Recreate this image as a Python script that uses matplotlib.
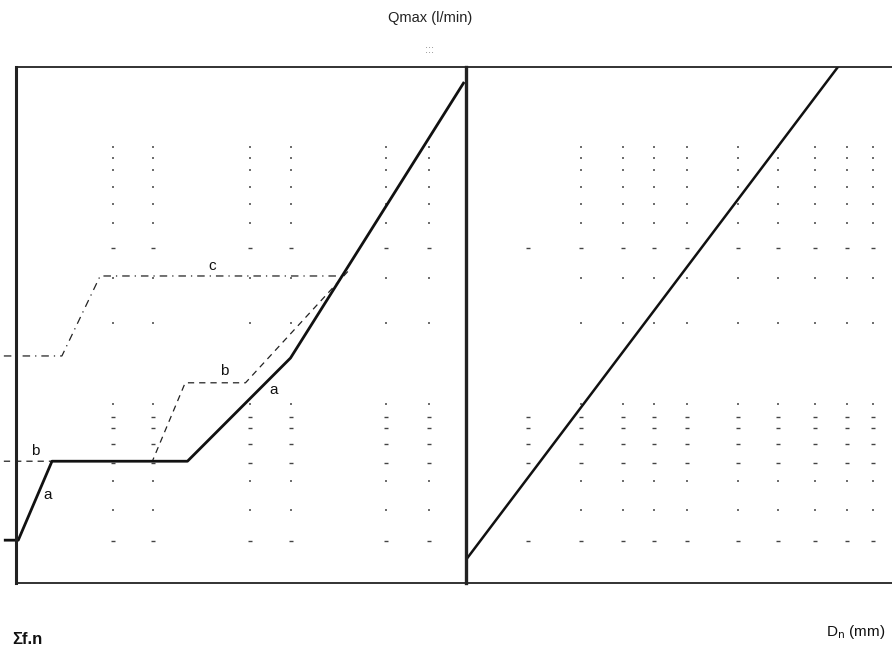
import matplotlib
matplotlib.use("Agg")
import matplotlib.pyplot as plt
import numpy as np

plt.rcParams["font.family"] = ["Liberation Sans", "DejaVu Sans"]

# curves (arbitrary chart units, y shared: Qmax)
a_x = [-2.7, 0.5, 8.0, 38.1, 61.0, 99.6]
a_y = [8.3, 8.3, 23.6, 23.6, 43.6, 97.1]
b_x = [-2.7, 30.3, 37.6, 51.0, 74.4]
b_y = [23.6, 23.6, 38.8, 38.8, 61.0]
c_x = [-2.7, 10.2, 18.7, 73.0]
c_y = [44.0, 44.0, 59.5, 59.5]

# right panel: Qmax vs D
d_x = [0.0, 87.3]
d_y = [4.5, 100.0]

# curve labels
labels = [("c", 43.6, 61.5), ("b", 46.3, 41.0), ("a", 57.3, 37.5),
          ("b", 4.2, 25.5), ("a", 7.1, 17.0)]

# sparse grid seen in the scan
dot_rows = [84.5, 82.4, 80.0, 76.7, 73.4, 69.8, 59.1, 50.4, 34.7, 19.8, 14.1]
dash_rows = [64.9, 32.2, 30.0, 26.9, 23.3, 8.1]
left_cols = [21.6, 30.5, 52.1, 61.0, 82.2, 91.8]
right_cols = [27.0, 36.9, 44.1, 51.9, 63.8, 73.2, 81.9, 89.4, 95.5]

fig = plt.figure(figsize=(8.92, 6.62), dpi=100)
axl = fig.add_axes([16 / 892, 79 / 662, 450 / 892, 516 / 662])
axr = fig.add_axes([466 / 892, 79 / 662, 426 / 892, 516 / 662])

for ax in (axl, axr):
    ax.set_ylim(0, 100)
    ax.set_xlim(0, 100)
    ax.set_xticks([])
    ax.set_yticks([])
    for s in ax.spines.values():
        s.set_color("#222222")
        s.set_linewidth(1.3)

axl.spines["left"].set_linewidth(2.2)
axl.spines["right"].set_visible(False)
axr.spines["left"].set_linewidth(2.4)
axr.spines["right"].set_visible(False)

gc = "#444444"


def grid(ax, cols):
    for x in cols:
        ax.plot([x] * len(dot_rows), dot_rows, ls="none", marker="|",
                ms=2, mew=1.1, color=gc)
        ax.plot([x] * len(dash_rows), dash_rows, ls="none", marker="_",
                ms=3, mew=1.0, color=gc)


grid(axl, left_cols)
grid(axr, right_cols)
axr.plot([14.6] * len(dash_rows), dash_rows, ls="none", marker="_",
         ms=3, mew=1.0, color=gc)

axl.plot(c_x, c_y, color="#222222", lw=0.9, ls=(0, (6, 4, 1, 4)), clip_on=False)
axl.plot(b_x, b_y, color="#222222", lw=0.9, ls=(0, (5, 4)), clip_on=False)
axl.plot(a_x, a_y, color="#111111", lw=2.0, clip_on=False, solid_capstyle="butt")
for t, x, y in labels:
    axl.text(x, y, t, fontsize=11, ha="center", va="center", color="#111111")

axr.plot(d_x, d_y, color="#111111", lw=1.8)

fig.text(430 / 892, 1 - 18 / 662, "Qmax (l/min)", ha="center", va="center",
         fontsize=10.5, color="#222222")
fig.text(430 / 892, 1 - 50 / 662, ":::", ha="center", va="center",
         fontsize=8, color="#888888")
fig.text(12 / 892, 1 - 639 / 662, "Σf.n", ha="left", va="center",
         fontsize=12, fontweight="bold", color="#111111")
fig.text(885 / 892, 1 - 632 / 662, "D$_{\\rm n}$ (mm)", ha="right", va="center",
         fontsize=11, color="#111111")

fig.savefig("out.png", dpi=100)
